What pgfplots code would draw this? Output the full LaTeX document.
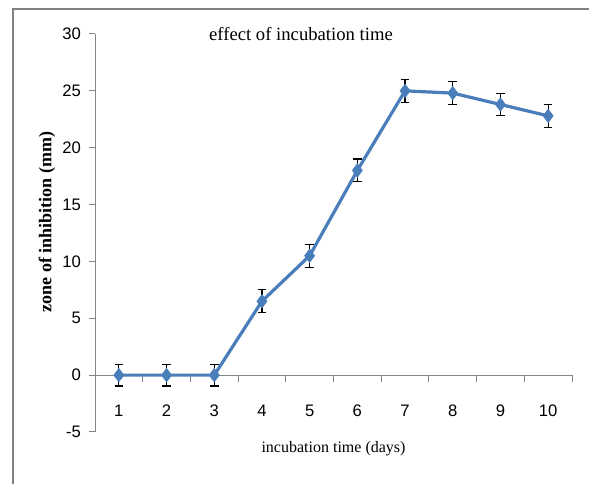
\documentclass[border=0pt]{standalone}
\usepackage{pgfplots}
\pgfplotsset{compat=1.18}
\usepackage{fontspec}
\setmainfont{Liberation Serif}
\newfontfamily\arialf{Liberation Sans}
\definecolor{serblue}{HTML}{4A7EBB}
\definecolor{axgray}{HTML}{868686}
\definecolor{framegray}{HTML}{808080}
\begin{document}
\begin{tikzpicture}
\path[use as bounding box] (0,0) rectangle (441.75pt,363pt);
\draw[framegray, line width=1.5pt] (9.75pt,0) -- (9.75pt,356.25pt) -- (441.75pt,356.25pt);
\begin{axis}[
  at={(71.25pt,39pt)}, anchor=south west,
  scale only axis, width=357.75pt, height=298.5pt,
  xmin=0.5, xmax=10.5, ymin=-5, ymax=30,
  axis lines*=left,
  x axis line style={draw=none},
  y axis line style={axgray, line width=0.75pt},
  xtick={1,...,10},
  ytick={-5,0,5,10,15,20,25,30},
  xtick style={draw=none},
  ytick style={axgray, line width=0.75pt},
  ytick align=outside,
  major tick length=4.5pt,
  /pgf/number format/assume math mode=true,
  ticklabel style={font=\arialf\fontsize{12.5}{14}\selectfont},
  xticklabel style={anchor=center, yshift=15.75pt},
  yticklabel style={xshift=-2.5pt},
  title={effect of incubation time},
  title style={font=\fontsize{14}{16}\selectfont, at={(axis description cs:0.4319,0.9786)}, anchor=center},
  xlabel={incubation time (days)},
  xlabel style={font=\fontsize{12}{14}\selectfont, at={(axis description cs:0.5,-0.0427)}, anchor=center},
  ylabel={zone of inhibition (mm)},
  ylabel style={font=\bfseries\fontsize{13.5}{15}\selectfont, at={(axis description cs:-0.1006,0.5276)}, anchor=center},
  clip=false,
]
\draw[axgray, line width=0.75pt] (axis cs:0.5,0) -- (axis cs:10.5,0);
\pgfplotsinvokeforeach{1.5,2.5,3.5,4.5,5.5,6.5,7.5,8.5,9.5,10.5}{
  \draw[axgray, line width=0.75pt] (axis cs:#1,0) -- ++(0pt,-5pt);
}
\addplot[serblue, line width=2.4pt, mark=diamond*, mark size=5pt,
  mark options={fill=serblue, draw=serblue, line width=0.5pt},
  error bars/.cd, y dir=both, y explicit,
  error bar style={black, line width=0.9pt},
  error mark options={rotate=90, mark size=3.2pt, black, line width=0.9pt}]
coordinates {
  (1,0) +- (0,0.95)
  (2,0) +- (0,0.95)
  (3,0) +- (0,0.95)
  (4,6.5) +- (0,1)
  (5,10.5) +- (0,1)
  (6,18) +- (0,1)
  (7,25) +- (0,1)
  (8,24.8) +- (0,1)
  (9,23.8) +- (0,1)
  (10,22.8) +- (0,1)
};
\end{axis}
\end{tikzpicture}
\end{document}
